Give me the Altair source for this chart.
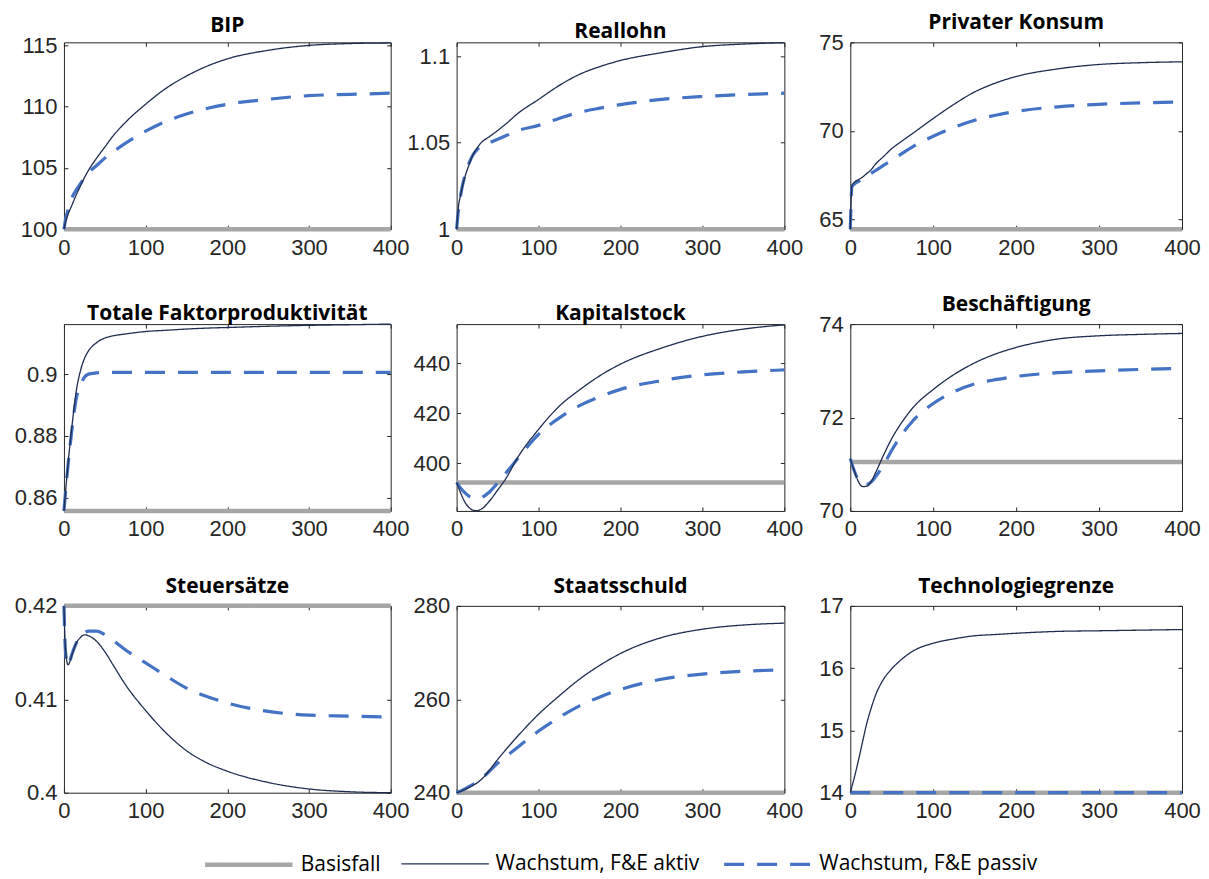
import altair as alt
import pandas as pd

# ---------------- data ----------------
X = [0, 2, 5, 10, 15, 20, 25, 30, 40, 50, 60, 75, 100, 125, 150, 175, 200, 250, 300, 350, 400]

TITLES = ["BIP", "Reallohn", "Privater Konsum",
          "Totale Faktorproduktivität", "Kapitalstock", "Beschäftigung",
          "Steuersätze", "Staatsschuld", "Technologiegrenze"]

SERIES = ["Basisfall", "Wachstum, F&E aktiv", "Wachstum, F&E passiv"]

BASIS = [100, 1.0, 64.45, 0.8557, 392.3, 71.05, 0.42, 240, 14]

AKTIV = [
    [100, 100.6, 101.2, 102.0, 102.8, 103.5, 104.2, 104.8, 105.8, 106.7, 107.6, 108.7, 110.2, 111.5, 112.5, 113.3, 113.9, 114.6, 115.0, 115.15, 115.2],
    [1.0, 1.012, 1.02, 1.03, 1.037, 1.043, 1.047, 1.050, 1.0535, 1.057, 1.0608, 1.067, 1.075, 1.083, 1.0895, 1.094, 1.0975, 1.102, 1.1055, 1.107, 1.1078],
    [64.45, 66.9, 67.1, 67.25, 67.4, 67.6, 67.8, 68.1, 68.55, 69.0, 69.35, 69.85, 70.7, 71.5, 72.2, 72.7, 73.07, 73.5, 73.75, 73.85, 73.9],
    [0.8557, 0.862, 0.871, 0.8836, 0.8944, 0.9009, 0.905, 0.9075, 0.9102, 0.9117, 0.9124, 0.913, 0.9138, 0.9142, 0.9146, 0.9149, 0.9151, 0.9155, 0.9158, 0.916, 0.9162],
    [392.3, 390.5, 388.0, 384.5, 382.3, 381.2, 381.0, 381.6, 384.8, 389.2, 393.8, 402.5, 413.5, 422.7, 429.3, 435.0, 439.6, 446.0, 450.7, 453.6, 455.3],
    [71.12, 71.0, 70.85, 70.62, 70.52, 70.53, 70.62, 70.8, 71.19, 71.55, 71.84, 72.2, 72.6, 72.92, 73.17, 73.36, 73.5, 73.68, 73.75, 73.78, 73.8],
    [0.42, 0.4152, 0.4137, 0.4148, 0.4160, 0.4166, 0.4169, 0.4168, 0.4162, 0.4151, 0.4137, 0.4116, 0.4088, 0.4064, 0.4045, 0.4032, 0.4023, 0.4011, 0.4004, 0.4001, 0.4000],
    [240, 240.1, 240.3, 240.7, 241.1, 241.6, 242.1, 242.8, 244.8, 247.1, 249.2, 252.2, 256.8, 260.7, 264.3, 267.3, 269.8, 273.2, 275.0, 275.9, 276.3],
    [14, 14.1, 14.25, 14.53, 14.83, 15.12, 15.35, 15.55, 15.82, 15.99, 16.12, 16.27, 16.4, 16.47, 16.52, 16.54, 16.56, 16.59, 16.6, 16.61, 16.62],
]

PASSIV = [
    [100, 100.8, 101.6, 102.6, 103.2, 103.7, 104.2, 104.6, 105.2, 105.8, 106.3, 107.0, 108.0, 108.8, 109.4, 109.85, 110.2, 110.6, 110.9, 111.0, 111.1],
    [1.0, 1.01, 1.02, 1.031, 1.038, 1.043, 1.046, 1.048, 1.050, 1.052, 1.054, 1.057, 1.060, 1.064, 1.0676, 1.070, 1.072, 1.075, 1.0767, 1.0778, 1.0786],
    [64.45, 66.85, 67.0, 67.15, 67.3, 67.45, 67.6, 67.75, 68.05, 68.35, 68.65, 69.1, 69.7, 70.2, 70.6, 70.88, 71.1, 71.36, 71.5, 71.58, 71.63],
    [0.8557, 0.862, 0.8705, 0.8825, 0.892, 0.8962, 0.899, 0.9, 0.9004, 0.9006, 0.9006, 0.9006, 0.9006, 0.9006, 0.9006, 0.9006, 0.9006, 0.9006, 0.9006, 0.9006, 0.9006],
    [392.3, 391.3, 390.0, 388.2, 386.8, 386.0, 385.8, 386.2, 388.5, 392.0, 396.0, 402.0, 411.5, 418.0, 423.0, 426.6, 429.5, 433.0, 435.3, 436.5, 437.3],
    [71.12, 71.0, 70.85, 70.65, 70.57, 70.57, 70.62, 70.72, 70.98, 71.3, 71.58, 71.92, 72.3, 72.55, 72.72, 72.81, 72.88, 72.96, 73.0, 73.03, 73.05],
    [0.42, 0.4150, 0.4136, 0.4149, 0.4160, 0.4167, 0.4171, 0.4173, 0.4173, 0.4169, 0.4163, 0.4153, 0.4139, 0.4125, 0.4112, 0.4103, 0.4096, 0.4087, 0.4083, 0.4082, 0.4081],
    [240, 240.15, 240.4, 240.8, 241.3, 241.8, 242.4, 243.0, 244.6, 246.3, 247.7, 249.8, 253.2, 256.1, 258.6, 260.5, 262.1, 264.3, 265.4, 266.0, 266.3],
    [14] * 21,
]

DOMAINS = [[100, 115.25], [1.0, 1.108], [64.45, 75], [0.8557, 0.9162], [380.9, 455.6],
           [70, 74], [0.40, 0.42], [240, 280], [14, 17]]

YTICKS = [[100, 105, 110, 115], [1, 1.05, 1.1], [65, 70, 75], [0.86, 0.88, 0.9],
          [400, 420, 440], [70, 72, 74], [0.4, 0.41, 0.42], [240, 260, 280], [14, 15, 16, 17]]

XTICKS = [0, 100, 200, 300, 400]

# ---------------- style ----------------
WIDTHS = [327, 328, 332]
HEIGHT = 187
TICK = 4
AXIS_COLOR = "#262626"
COLORS = ["#a6a6a6", "#1f2d4f", "#4472c4"]
DASHES = [[1, 0], [1, 0], [20, 13]]
STROKES = [4.5, 1.3, 3.2]

color_scale = alt.Scale(domain=SERIES, range=COLORS)
dash_scale = alt.Scale(domain=SERIES, range=DASHES)
width_scale = alt.Scale(type="ordinal", domain=SERIES, range=STROKES)


def panel(i):
    rows = []
    for k, xv in enumerate(X):
        rows.append({"t": xv, "v": BASIS[i], "s": SERIES[0]})
        rows.append({"t": xv, "v": AKTIV[i][k], "s": SERIES[1]})
        rows.append({"t": xv, "v": PASSIV[i][k], "s": SERIES[2]})
    df = pd.DataFrame(rows)
    w = WIDTHS[i % 3]
    xaxis = alt.Axis(values=XTICKS, grid=True, gridDash=[TICK, HEIGHT - 2 * TICK, TICK, 3000],
                     gridColor=AXIS_COLOR, gridOpacity=1, gridWidth=1,
                     ticks=False, domain=False, labelFlush=False, labelOverlap=False,
                     labelPadding=8, title=None)
    yaxis = alt.Axis(values=YTICKS[i], grid=True, gridDash=[TICK, w - 2 * TICK, TICK, 3000],
                     gridColor=AXIS_COLOR, gridOpacity=1, gridWidth=1,
                     ticks=False, domain=False, labelFlush=False, labelOverlap=False,
                     labelPadding=7, labelExpr="'' + datum.value", title=None)
    base = alt.Chart(df).mark_line(interpolate="monotone").encode(
        x=alt.X("t:Q", scale=alt.Scale(domain=[0, 400], nice=False, zero=False), axis=xaxis),
        y=alt.Y("v:Q", scale=alt.Scale(domain=DOMAINS[i], nice=False, zero=False), axis=yaxis),
        color=alt.Color("s:N", scale=color_scale, legend=alt.Legend(title=None)),
        strokeDash=alt.StrokeDash("s:N", scale=dash_scale, legend=alt.Legend(title=None)),
        strokeWidth=alt.StrokeWidth("s:N", scale=width_scale, legend=alt.Legend(title=None)),
    )
    layers = [base.transform_filter(alt.datum.s == name) for name in [SERIES[0], SERIES[2], SERIES[1]]]
    return alt.layer(*layers, title=alt.Title(TITLES[i])).properties(width=w, height=HEIGHT)


charts = [panel(i) for i in range(9)]

chart = alt.concat(*charts, columns=3, spacing={"row": 95, "column": 66}, bounds="flush").resolve_scale(
    color="shared", strokeDash="shared", strokeWidth="shared"
).properties(
    padding={"left": 5, "top": 3, "right": 0, "bottom": 3}
).configure_view(
    stroke=AXIS_COLOR, strokeWidth=1
).configure_axis(
    labelFont="Liberation Sans", labelFontSize=22, labelColor=AXIS_COLOR
).configure_title(
    font="Open Sans", fontSize=21, fontWeight="bold", color="#000000", offset=-2
).configure_legend(
    orient="none", legendX=140, legendY=808, direction="horizontal",
    symbolType="M-3.5,0L3.5,0", symbolSize=625,
    symbolOffset=30, labelFont="Open Sans", labelFontSize=21, labelColor="#000000",
    labelLimit=500, columnPadding=18, labelOffset=37
)

chart.save("out.html", embed_options={"renderer": "svg", "actions": False})
